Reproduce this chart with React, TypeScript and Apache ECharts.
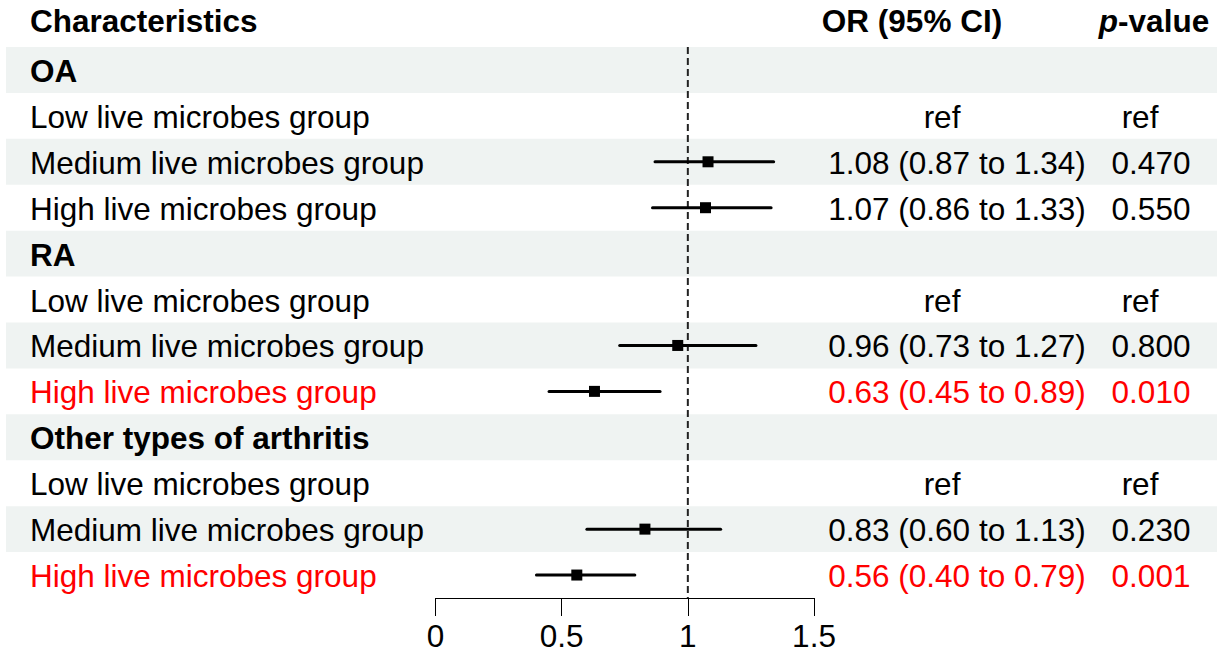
import React, { useEffect, useRef } from "react";
import * as echarts from "echarts";

const rowLabels = [
  "OA",
  "Low live microbes group",
  "Medium live microbes group",
  "High live microbes group",
  "RA",
  "Low live microbes group",
  "Medium live microbes group",
  "High live microbes group",
  "Other types of arthritis",
  "Low live microbes group",
  "Medium live microbes group",
  "High live microbes group",
];
const boldRows = [true, false, false, false, true, false, false, false, true, false, false, false];
const redRows = [false, false, false, false, false, false, false, true, false, false, false, true];
const orMean = [null, null, 1.08, 1.07, null, null, 0.96, 0.63, null, null, 0.83, 0.56];
const orLower = [null, null, 0.87, 0.86, null, null, 0.73, 0.45, null, null, 0.6, 0.4];
const orUpper = [null, null, 1.34, 1.33, null, null, 1.27, 0.89, null, null, 1.13, 0.79];
const orText = [
  "", "ref", "1.08 (0.87 to 1.34)", "1.07 (0.86 to 1.33)",
  "", "ref", "0.96 (0.73 to 1.27)", "0.63 (0.45 to 0.89)",
  "", "ref", "0.83 (0.60 to 1.13)", "0.56 (0.40 to 0.79)",
];
const pText = ["", "ref", "0.470", "0.550", "", "ref", "0.800", "0.010", "", "ref", "0.230", "0.001"];
const xTicks = [0, 0.5, 1, 1.5];
const refValue = 1;
const headers = ["Characteristics", "OR (95% CI)", "p-value"];

export default function App() {
  const ref = useRef<HTMLDivElement>(null);
  useEffect(() => {
    const chart = echarts.init(ref.current!, null, { renderer: "svg" });
    const FONT = "'Liberation Sans', Arial, Helvetica, sans-serif";
    const FS = 31.5;
    const nRows = rowLabels.length;
    const rowIdx = rowLabels.map((_, i) => i + 1);
    const shaded = rowIdx.filter((r) => r % 2 === 1);
    const forestData = orMean
      .map((m, i) => (m == null ? null : [m, orLower[i], orUpper[i], i + 1]))
      .filter((d) => d != null);

    const yAx = (gi: number) => ({
      gridIndex: gi,
      type: "value",
      min: 0.5,
      max: nRows + 0.5,
      inverse: true,
      show: false,
    });

    const option: any = {
      animation: false,
      backgroundColor: "#ffffff",
      grid: [
        { left: 0, right: 0, top: 47, height: 551 },
        { left: 435.5, width: 378.5, top: 47, height: 551 },
      ],
      xAxis: [
        { gridIndex: 0, type: "value", min: 0, max: 1229, show: false },
        {
          gridIndex: 1,
          type: "value",
          min: xTicks[0],
          max: xTicks[xTicks.length - 1],
          interval: xTicks[1] - xTicks[0],
          axisLine: { show: true, onZero: false, lineStyle: { color: "#000", width: 1 } },
          axisTick: { show: true, length: 18, lineStyle: { color: "#000", width: 1 } },
          axisLabel: {
            fontSize: FS,
            color: "#000",
            fontFamily: FONT,
            margin: 22,
            formatter: (v: number) => String(v),
          },
          splitLine: { show: false },
        },
      ],
      yAxis: [yAx(0), yAx(1)],
      graphic: [
        {
          type: "text",
          x: 30,
          y: 21,
          style: {
            text: headers[0],
            fontSize: FS,
            fontWeight: "bold",
            fontFamily: FONT,
            fill: "#000",
            align: "left",
            verticalAlign: "middle",
          },
        },
        {
          type: "text",
          x: 912,
          y: 21,
          style: {
            text: headers[1],
            fontSize: FS,
            fontWeight: "bold",
            fontFamily: FONT,
            fill: "#000",
            align: "center",
            verticalAlign: "middle",
          },
        },
        {
          type: "text",
          x: 1154,
          y: 21,
          style: {
            text: "{i|" + headers[2].slice(0, 1) + "}" + headers[2].slice(1),
            fontSize: FS,
            fontWeight: "bold",
            fontFamily: FONT,
            fill: "#000",
            align: "center",
            verticalAlign: "middle",
            rich: {
              i: { fontStyle: "italic", fontWeight: "bold", fontSize: FS, fontFamily: FONT, fill: "#000" },
            },
          },
        },
      ],
      series: [
        {
          type: "custom",
          xAxisIndex: 0,
          yAxisIndex: 0,
          silent: true,
          data: shaded.map((r) => [r]),
          renderItem: (params: any, api: any) => {
            const r = api.value(0);
            const top = api.coord([0, r - 0.5])[1];
            const bot = api.coord([0, r + 0.5])[1];
            const x0 = api.coord([6, r])[0];
            const x1 = api.coord([1217, r])[0];
            return {
              type: "rect",
              shape: { x: x0, y: top, width: x1 - x0, height: bot - top },
              style: { fill: "#eff3f2" },
            };
          },
          z: 1,
        },
        {
          type: "custom",
          xAxisIndex: 0,
          yAxisIndex: 0,
          silent: true,
          data: rowIdx.map((r) => [r]),
          renderItem: (params: any, api: any) => {
            const r = api.value(0);
            const i = r - 1;
            const y = api.coord([0, r])[1] + 1;
            const color = redRows[i] ? "#ff0000" : "#000000";
            const base = {
              fontSize: FS,
              fontFamily: FONT,
              fill: color,
              verticalAlign: "middle",
            };
            const children: any[] = [
              {
                type: "text",
                x: api.coord([30, r])[0],
                y,
                style: {
                  ...base,
                  text: rowLabels[i],
                  fontWeight: boldRows[i] ? "bold" : "normal",
                  align: "left",
                },
              },
            ];
            if (orText[i]) {
              const isRef = orText[i] === "ref";
              children.push({
                type: "text",
                x: api.coord([isRef ? 942 : 957, r])[0],
                y,
                style: { ...base, text: orText[i], align: "center" },
              });
            }
            if (pText[i]) {
              const isRef = pText[i] === "ref";
              children.push({
                type: "text",
                x: api.coord([isRef ? 1140 : 1151, r])[0],
                y,
                style: { ...base, text: pText[i], align: "center" },
              });
            }
            return { type: "group", children };
          },
          z: 3,
        },
        {
          type: "line",
          xAxisIndex: 1,
          yAxisIndex: 1,
          silent: true,
          symbol: "none",
          data: [
            [refValue, 0.5],
            [refValue, nRows + 0.5],
          ],
          lineStyle: { color: "#222222", width: 2, type: [7, 4] },
          z: 2,
        },
        {
          type: "custom",
          xAxisIndex: 1,
          yAxisIndex: 1,
          silent: true,
          data: forestData,
          renderItem: (params: any, api: any) => {
            const m = api.value(0);
            const lo = api.value(1);
            const hi = api.value(2);
            const r = api.value(3);
            const pm = api.coord([m, r]);
            const pl = api.coord([lo, r]);
            const ph = api.coord([hi, r]);
            const s = 11;
            return {
              type: "group",
              children: [
                {
                  type: "line",
                  shape: { x1: pl[0], y1: pl[1], x2: ph[0], y2: ph[1] },
                  style: { stroke: "#000", lineWidth: 3, lineCap: "round" },
                },
                {
                  type: "rect",
                  shape: { x: pm[0] - s / 2, y: pm[1] - s / 2, width: s, height: s },
                  style: { fill: "#000" },
                },
              ],
            };
          },
          z: 4,
        },
      ],
    };
    chart.setOption(option);
    return () => chart.dispose();
  }, []);
  return (
    <div
      ref={ref}
      style={{ position: "absolute", left: 0, top: 0, width: 1229, height: 655, background: "#fff" }}
    />
  );
}
